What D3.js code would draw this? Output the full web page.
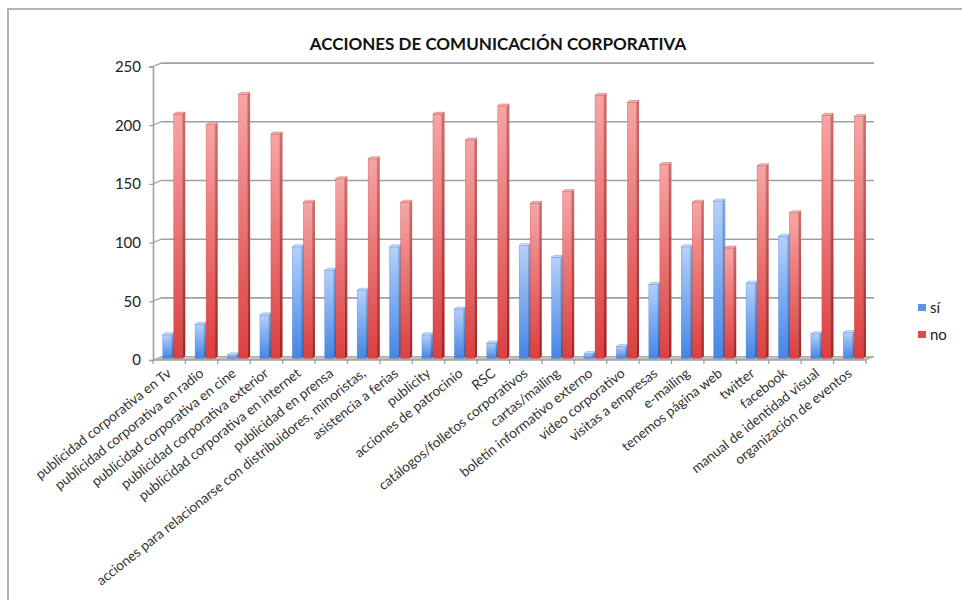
<!DOCTYPE html>
<html>
<head>
<meta charset="utf-8">
<script src="https://cdn.jsdelivr.net/npm/d3@7"></script>
<style>
  html, body { margin: 0; padding: 0; background: #fff; }
  svg { display: block; font-family: Lato, "Noto Sans", sans-serif; }
</style>
</head>
<body>
<svg id="chart" width="962" height="600"></svg>
<script>
// Survey results: communication actions used (sí) or not used (no)
const categories = [
  "publicidad corporativa en Tv",
  "publicidad corporativa en radio",
  "publicidad corporativa en cine",
  "publicidad corporativa exterior",
  "publicidad corporativa en internet",
  "publicidad en prensa",
  "acciones para relacionarse con distribuidores, minoristas,",
  "asistencia a ferias",
  "publicity",
  "acciones de patrocinio",
  "RSC",
  "catálogos/folletos corporativos",
  "cartas/mailing",
  "boletín informativo externo",
  "vídeo corporativo",
  "visitas a empresas",
  "e-mailing",
  "tenemos página web",
  "twitter",
  "facebook",
  "manual de identidad visual",
  "organización de eventos"
];
const siValues = [20, 29, 3, 37, 95, 75, 58, 95, 20, 42, 13, 96, 86, 4, 10, 63, 95, 134, 64, 104, 21, 22];
const noValues = [208, 199, 225, 191, 133, 153, 170, 133, 208, 186, 215, 132, 142, 224, 218, 165, 133, 94, 164, 124, 207, 206];
const yTicks = [0, 50, 100, 150, 200, 250];
const seriesNames = ["sí", "no"];
const chartTitle = "ACCIONES DE COMUNICACIÓN CORPORATIVA";

const svg = d3.select("#chart");
const W = 962, H = 600;

// depth offset of the back wall relative to the front axis plane
const DX = 8, DY = -3.4;

const x = d3.scaleBand().domain(categories).range([153, 866]).paddingInner(0).paddingOuter(0);
const y = d3.scaleLinear().domain([0, 250]).range([360, 66.5]);

// gradients for the 3D columns
const defs = svg.append("defs");
function vGrad(id, top, bottom) {
  const g = defs.append("linearGradient").attr("id", id)
    .attr("x1", 0).attr("y1", 0).attr("x2", 0).attr("y2", 1);
  g.append("stop").attr("offset", "0%").attr("stop-color", top);
  g.append("stop").attr("offset", "100%").attr("stop-color", bottom);
}
vGrad("blueFace", "#b4d1fb", "#4585e4");
vGrad("blueSide", "#82a9de", "#2a5fb3");
vGrad("redFace", "#f7a5a5", "#dc3f3f");
vGrad("redSide", "#cf6e6e", "#a52222");

// outer frame
svg.append("path")
  .attr("d", `M8,${H + 5} L8,9 L${W + 5},9`)
  .attr("fill", "none").attr("stroke", "#b4b4b4").attr("stroke-width", 2);

// title
svg.append("text")
  .attr("x", 498).attr("y", 50)
  .attr("text-anchor", "middle")
  .attr("font-weight", 700).attr("font-size", 17).attr("fill", "#111")
  .text(chartTitle);

const gridColor = "#a0a0a0";
const x0 = x.range()[0], x1 = x.range()[1];

// back-wall gridlines with stubs across the left wall
const grid = svg.append("g");
yTicks.filter(t => t > 0).forEach(t => {
  grid.append("line")
    .attr("x1", x0 + DX).attr("x2", x1 + DX)
    .attr("y1", y(t) + DY).attr("y2", y(t) + DY)
    .attr("stroke", gridColor).attr("stroke-width", 1.6);
  grid.append("line")
    .attr("x1", x0).attr("y1", y(t))
    .attr("x2", x0 + DX).attr("y2", y(t) + DY)
    .attr("stroke", gridColor).attr("stroke-width", 1.2);
});

// floor
svg.append("path")
  .attr("d", `M${x0},${y(0)} L${x1},${y(0)} L${x1 + DX},${y(0) + DY} L${x0 + DX},${y(0) + DY} Z`)
  .attr("fill", "#c2c2c2").attr("stroke", "#9a9a9a").attr("stroke-width", 0.8);

// y axis (front edge of the left wall)
const yAxis = d3.axisLeft(y).tickValues(yTicks).tickSize(4).tickPadding(8);
const gy = svg.append("g").attr("transform", `translate(${x0},0)`).call(yAxis);
gy.select(".domain").attr("stroke", gridColor).attr("stroke-width", 1.6);
gy.selectAll(".tick line").attr("stroke", gridColor).attr("stroke-width", 1.2);
gy.selectAll(".tick text").attr("font-size", 15).attr("fill", "#222")
  .attr("font-family", "Lato, 'Noto Sans', sans-serif");

// x axis with category boundary ticks
const gx = svg.append("g").attr("transform", `translate(0,${y(0)})`);
gx.append("line").attr("x1", x0).attr("x2", x1).attr("y1", 0).attr("y2", 0)
  .attr("stroke", "#999").attr("stroke-width", 1.2);
categories.concat([null]).forEach(c => {
  const tx = c === null ? x1 : x(c);
  gx.append("line").attr("x1", tx).attr("x2", tx).attr("y1", 0).attr("y2", 4)
    .attr("stroke", "#999").attr("stroke-width", 1.2);
});
gx.selectAll("text.cat").data(categories).enter().append("text")
  .attr("class", "cat")
  .attr("text-anchor", "end")
  .attr("font-size", 13.7).attr("fill", "#333")
  .attr("transform", d => `translate(${x(d) + x.bandwidth() / 2 + 3},${15}) rotate(-38.5)`)
  .text(d => d);

// 3D columns
const faceW = 9, sideW = 2.6, capH = 2;
const base = y(0) + DY / 2;
const k = (y(0) - y(250)) / 250;
const bars = svg.append("g");

function column(g, cx, v, face, side, cap, edge) {
  const top = base - v * k;
  g.append("rect").attr("x", cx).attr("y", top).attr("width", faceW).attr("height", base - top)
    .attr("fill", `url(#${face})`).attr("stroke", edge).attr("stroke-width", 0.5).attr("stroke-opacity", 0.6);
  g.append("path")
    .attr("d", `M${cx + faceW},${top} L${cx + faceW + sideW},${top - capH} L${cx + faceW + sideW},${base - capH} L${cx + faceW},${base} Z`)
    .attr("fill", `url(#${side})`);
  g.append("path")
    .attr("d", `M${cx},${top} L${cx + faceW},${top} L${cx + faceW + sideW},${top - capH} L${cx + sideW},${top - capH} Z`)
    .attr("fill", cap).attr("stroke", edge).attr("stroke-width", 0.5).attr("stroke-opacity", 0.6);
}

categories.forEach((c, i) => {
  const cx = x(c) + x.bandwidth() / 2 + 4.5;
  const g = bars.append("g");
  column(g, cx - 11, siValues[i], "blueFace", "blueSide", "#c9defb", "#3a6fc2");
  column(g, cx, noValues[i], "redFace", "redSide", "#f3b3b3", "#b83434");
});

// legend
const legend = svg.append("g");
const legendColors = ["#5b93e6", "#df4a4a"];
seriesNames.forEach((s, i) => {
  const ly = 309 + i * 27;
  legend.append("rect").attr("x", 918).attr("y", ly - 5).attr("width", 8).attr("height", 7)
    .attr("fill", legendColors[i]);
  legend.append("text").attr("x", 930).attr("y", ly + 4)
    .attr("font-size", 15).attr("fill", "#222").text(s);
});
</script>
</body>
</html>
